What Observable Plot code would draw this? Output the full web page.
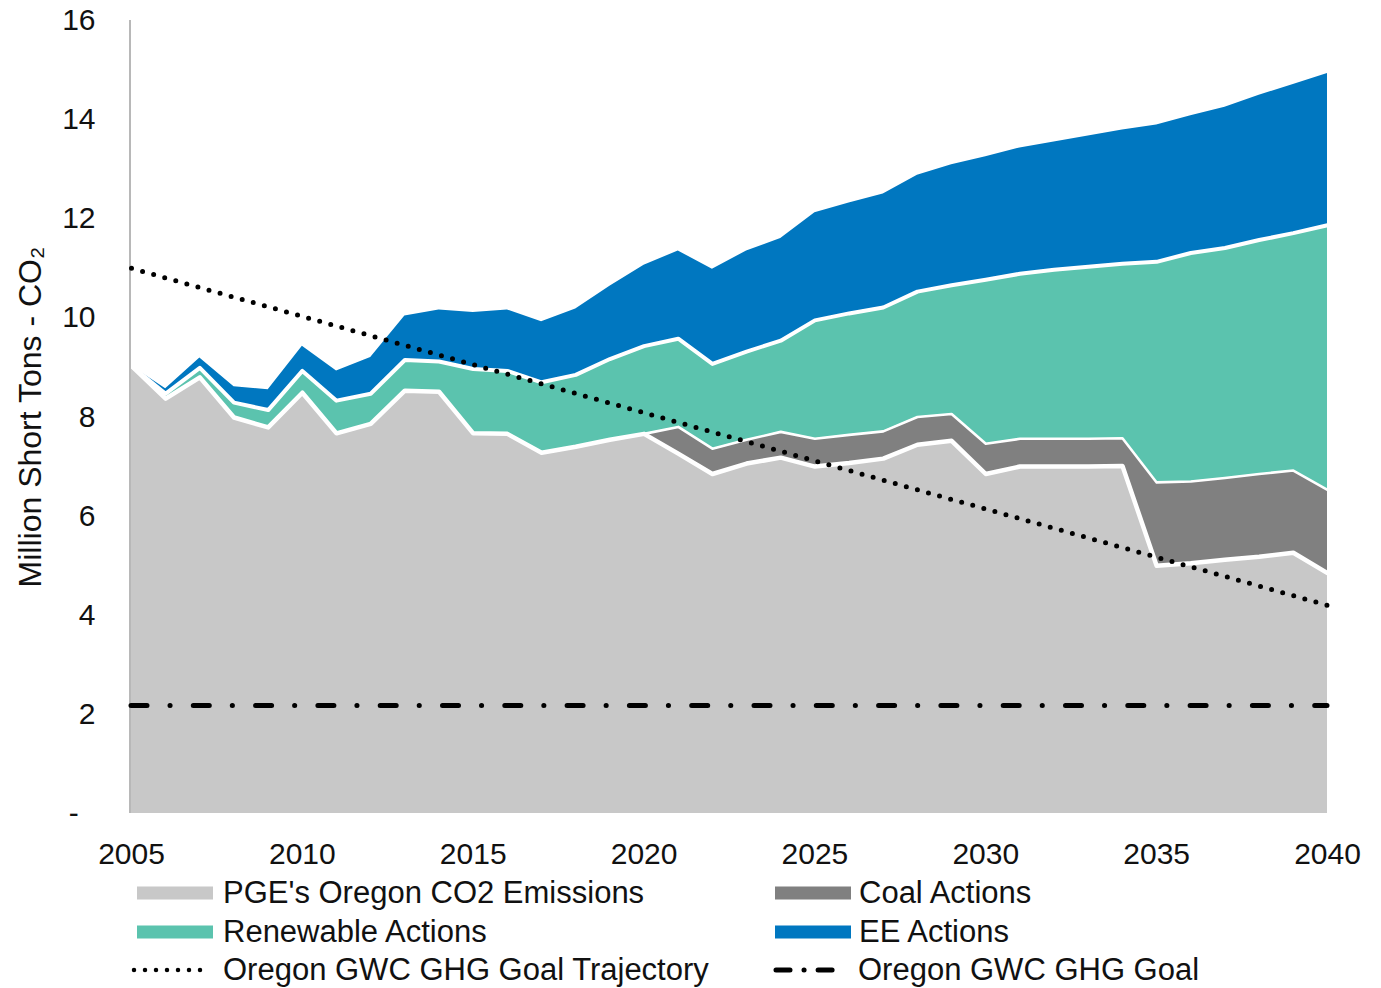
<!DOCTYPE html>
<html>
<head>
<meta charset="utf-8">
<script src="https://cdn.jsdelivr.net/npm/d3@7"></script>
<script src="https://cdn.jsdelivr.net/npm/@observablehq/plot@0.6"></script>
<style>
  html, body { margin: 0; padding: 0; background: #fff; }
  body { font-family: "Liberation Sans", Arial, sans-serif; }
  #wrap { position: relative; width: 1381px; height: 988px; overflow: hidden; }
  #legend { position: absolute; left: 0; top: 870px; width: 1381px; height: 118px; }
  .item { position: absolute; height: 40px; display: flex; align-items: center; font-size: 31px; color: #111; white-space: nowrap; }
  .item svg { display: block; }
</style>
</head>
<body>
<div id="wrap">
  <div id="chart"></div>
  <div id="legend"></div>
</div>
<script>
// ---- Data ----
const years = [2005, 2006, 2007, 2008, 2009, 2010, 2011, 2012, 2013, 2014, 2015, 2016,
  2017, 2018, 2019, 2020, 2021, 2022, 2023, 2024, 2025, 2026, 2027, 2028,
  2029, 2030, 2031, 2032, 2033, 2034, 2035, 2036, 2037, 2038, 2039, 2040];

const seriesNames = ["PGE's Oregon CO2 Emissions", "Coal Actions", "Renewable Actions", "EE Actions"];

const emissions = [9.03, 8.37, 8.80, 7.99, 7.79, 8.49, 7.67, 7.86, 8.53, 8.51, 7.67, 7.66,
  7.28, 7.40, 7.54, 7.66, 7.26, 6.85, 7.06, 7.18, 7.00, 7.07, 7.16, 7.44,
  7.52, 6.85, 7.00, 7.00, 7.00, 7.01, 5.00, 5.05, 5.12, 5.18, 5.26, 4.85];

const coalActions = [0, 0, 0, 0, 0, 0, 0, 0, 0, 0, 0, 0,
  0, 0, 0, 0, 0.54, 0.51, 0.48, 0.52, 0.56, 0.57, 0.55, 0.56,
  0.54, 0.61, 0.56, 0.56, 0.56, 0.56, 1.68, 1.65, 1.65, 1.67, 1.66, 1.68];

const renewableActions = [0, 0.10, 0.19, 0.30, 0.35, 0.44, 0.66, 0.61, 0.62, 0.61, 1.30, 1.27,
  1.42, 1.45, 1.63, 1.77, 1.78, 1.71, 1.78, 1.84, 2.39, 2.45, 2.50, 2.53,
  2.60, 3.31, 3.33, 3.41, 3.47, 3.52, 4.45, 4.61, 4.64, 4.72, 4.79, 5.34];

const eeActions = [0, 0.10, 0.20, 0.32, 0.41, 0.50, 0.60, 0.73, 0.89, 1.04, 1.14, 1.23,
  1.22, 1.33, 1.47, 1.63, 1.77, 1.91, 2.03, 2.06, 2.17, 2.23, 2.29, 2.35,
  2.43, 2.48, 2.54, 2.58, 2.64, 2.70, 2.76, 2.77, 2.84, 2.92, 3.00, 3.06];

const trajectoryYears = [2005, 2040];
const trajectoryValues = [11.0, 4.2];
const goalValue = 2.18;

const xTicks = [2005, 2010, 2015, 2020, 2025, 2030, 2035, 2040];
const yTicks = [0, 2, 4, 6, 8, 10, 12, 14, 16];
const yTickLabels = ["-", "2", "4", "6", "8", "10", "12", "14", "16"];

const yLabel = "Million Short Tons - CO\u2082";
const legendLabels = {
  traj: "Oregon GWC GHG Goal Trajectory",
  goal: "Oregon GWC GHG Goal"
};

// ---- Styles ----
const colors = ["#c8c8c8", "#808080", "#5bc3ae", "#0077c0"];
const whiteWidths = {"PGE's Oregon CO2 Emissions": 4.5, "Coal Actions": 2.6, "Renewable Actions": 4};
const font = "'Liberation Sans', Arial, sans-serif";

// ---- Build tidy rows ----
const seriesValues = [emissions, coalActions, renewableActions, eeActions];
const rows = [];
seriesNames.forEach((name, k) => {
  years.forEach((yr, i) => rows.push({year: yr, series: name, value: seriesValues[k][i]}));
});
const trajectory = trajectoryYears.map((yr, i) => ({year: yr, value: trajectoryValues[i]}));

const chart = Plot.plot({
  width: 1381,
  height: 870,
  marginLeft: 131,
  marginRight: 54,
  marginTop: 20,
  marginBottom: 57,
  style: {fontFamily: font, fontSize: "30px", color: "#111", background: "#fff", overflow: "visible"},
  x: {domain: [2005, 2040], ticks: xTicks, tickFormat: d => String(d), tickSize: 0, tickPadding: 29, label: null},
  y: {domain: [0, 16], ticks: yTicks, tickFormat: d => {
        const i = yTicks.indexOf(d);
        return d === 0 ? yTickLabels[i] + "\u00a0\u00a0" : yTickLabels[i];
      }, tickSize: 0, tickPadding: 36, label: null},
  color: {domain: seriesNames, range: colors},
  marks: [
    Plot.areaY(rows, {x: "year", y: "value", z: "series", fill: "series", order: seriesNames}),
    Plot.lineY(rows.filter(d => d.series !== "EE Actions"),
      Plot.stackY2({x: "year", y: "value", z: "series", order: seriesNames,
        stroke: "white", strokeWidth: d => whiteWidths[d.series], strokeLinejoin: "round"})),
    Plot.ruleX([2005], {y1: 0, y2: 16, stroke: "#b8b8b8", strokeWidth: 2, dx: -1.5}),
    Plot.ruleY([goalValue], {x1: 2005, x2: 2040, stroke: "#000", strokeWidth: 5,
      strokeDasharray: "16,23,0.1,23.2", strokeLinecap: "round"}),
    Plot.lineY(trajectory, {x: "year", y: "value", stroke: "#000", strokeWidth: 5,
      strokeDasharray: "0,11.5", strokeLinecap: "round"}),
    Plot.text([yLabel], {text: d => d, frameAnchor: "left", dx: -101, rotate: -90,
      textAnchor: "middle", lineAnchor: "middle", fontSize: 32, fill: "#111"})
  ]
});
document.getElementById("chart").appendChild(chart);

// ---- Legend ----
const legend = document.getElementById("legend");
const ns = "http://www.w3.org/2000/svg";
function addItem(left, centerY, swatchW, drawSwatch, label, gap) {
  const div = document.createElement("div");
  div.className = "item";
  div.style.left = left + "px";
  div.style.top = (centerY - 20) + "px";
  const svg = document.createElementNS(ns, "svg");
  svg.setAttribute("width", swatchW);
  svg.setAttribute("height", 20);
  drawSwatch(svg);
  div.appendChild(svg);
  const span = document.createElement("span");
  span.style.marginLeft = gap + "px";
  span.textContent = label;
  div.appendChild(span);
  legend.appendChild(div);
}
function rectSwatch(color) {
  return svg => {
    const r = document.createElementNS(ns, "rect");
    r.setAttribute("x", 0); r.setAttribute("y", 3.5); r.setAttribute("width", 76); r.setAttribute("height", 13);
    r.setAttribute("fill", color);
    svg.appendChild(r);
  };
}
function dottedSwatch(svg) {
  const l = document.createElementNS(ns, "line");
  l.setAttribute("x1", 3); l.setAttribute("x2", 80); l.setAttribute("y1", 10); l.setAttribute("y2", 10);
  l.setAttribute("stroke", "#000"); l.setAttribute("stroke-width", 4.5);
  l.setAttribute("stroke-dasharray", "0,11"); l.setAttribute("stroke-linecap", "round");
  svg.appendChild(l);
}
function dashDotSwatch(svg) {
  const l = document.createElementNS(ns, "line");
  l.setAttribute("x1", 3); l.setAttribute("x2", 71); l.setAttribute("y1", 10); l.setAttribute("y2", 10);
  l.setAttribute("stroke", "#000"); l.setAttribute("stroke-width", 5);
  l.setAttribute("stroke-dasharray", "14,14,0.1,14,14"); l.setAttribute("stroke-linecap", "round");
  svg.appendChild(l);
}
const rowsY = [23, 62, 100];
addItem(137, rowsY[0], 76, rectSwatch(colors[0]), seriesNames[0], 10);
addItem(775, rowsY[0], 76, rectSwatch(colors[1]), seriesNames[1], 8);
addItem(137, rowsY[1], 76, rectSwatch(colors[2]), seriesNames[2], 10);
addItem(775, rowsY[1], 76, rectSwatch(colors[3]), seriesNames[3], 8);
addItem(131, rowsY[2], 84, dottedSwatch, legendLabels.traj, 8);
addItem(773, rowsY[2], 74, dashDotSwatch, legendLabels.goal, 11);
</script>
</body>
</html>
